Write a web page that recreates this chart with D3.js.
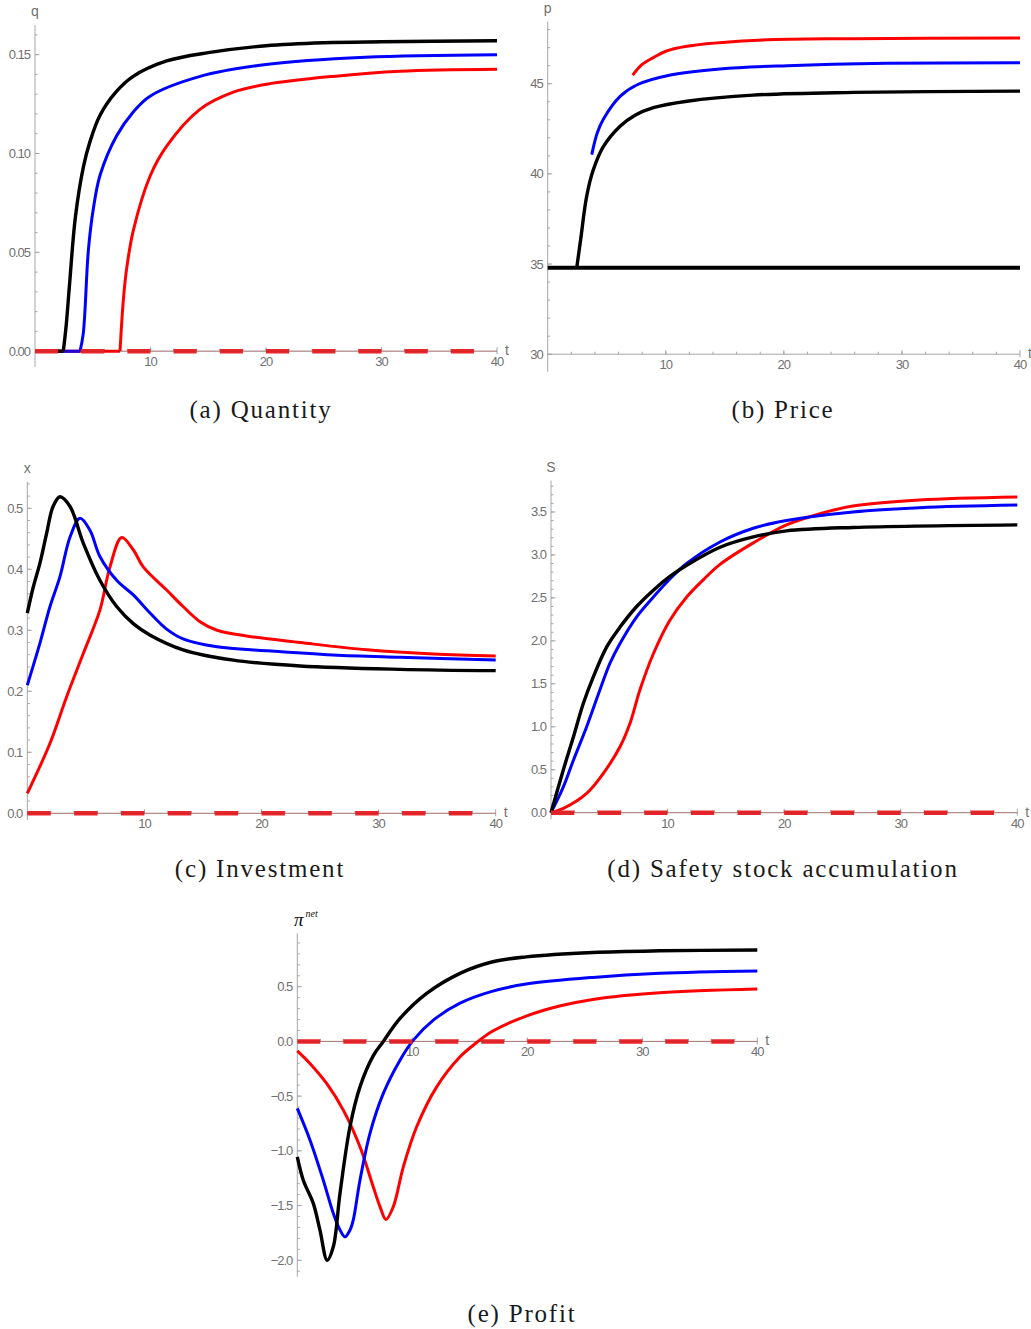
<!DOCTYPE html>
<meta charset="utf-8">
<style>
body { margin: 0; background: #fff; }
svg { display: block; }
.tick-label { font-family: "Liberation Sans", Arial, sans-serif; font-size: 13px; fill: #707070; letter-spacing: -1px; }
.axis-name { font-family: "Liberation Sans", Arial, sans-serif; font-size: 14px; fill: #707070; }
.caption { font-family: "Liberation Serif", serif; font-size: 25px; fill: #1a1a1a; letter-spacing: 1.8px; }
.pi { font-family: "Liberation Serif", serif; font-style: italic; fill: #111; }
</style>
<body>
<svg width="1031" height="1329"></svg>
<script src="https://cdn.jsdelivr.net/npm/d3@7"></script>
<script>

// shared time axis
var tMajor = [10, 20, 30, 40];
var tLabels = ["10", "20", "30", "40"];

// (a) quantity q(t)
var qBlackT = [0, 2.45, 2.7, 3.0, 3.5, 4.2, 4.76, 5.6, 7.0, 8.5, 11.4, 15, 20, 25, 30, 40];
var qBlack  = [0, 0, 0.013, 0.0345, 0.068, 0.0935, 0.106, 0.119, 0.131, 0.139, 0.1468, 0.151, 0.1545, 0.156, 0.1565, 0.157];
var qBlueT  = [0, 3.9, 4.18, 4.62, 5.05, 5.63, 7.07, 8.51, 9.96, 14.3, 20, 28.6, 40];
var qBlue   = [0, 0, 0.009, 0.051, 0.072, 0.089, 0.109, 0.121, 0.129, 0.139, 0.145, 0.1487, 0.150];
var qRedT   = [0, 7.36, 7.65, 7.94, 8.51, 9.96, 11.4, 14.28, 17.17, 20.05, 25.8, 31.6, 40];
var qRed    = [0, 0, 0.026, 0.042, 0.061, 0.0885, 0.1037, 0.1223, 0.131, 0.135, 0.139, 0.1416, 0.1426];
var qTicks  = [0, 0.05, 0.10, 0.15];
var qLabels = ["0.00", "0.05", "0.10", "0.15"];

// (b) price p(t)
var pFloorT = [0, 40];
var pFloor  = [34.8, 34.8];
var pBlackT = [2.46, 2.8, 3.3, 3.87, 4.7, 6.13, 7.4, 8.95, 11.8, 17.4, 25.9, 40];
var pBlack  = [34.8, 36.4, 38.76, 40.24, 41.5, 42.64, 43.25, 43.67, 44.03, 44.37, 44.52, 44.59];
var pBlueT  = [3.73, 4.2, 4.7, 6.13, 7.54, 10.4, 14.6, 20.3, 28.7, 40];
var pBlue   = [41.07, 42.28, 43.02, 44.3, 44.93, 45.48, 45.82, 46.0, 46.13, 46.17];
var pRedT   = [7.2, 8.0, 8.95, 10.0, 11.8, 17.4, 25.9, 40];
var pRed    = [45.48, 46.07, 46.45, 46.8, 47.08, 47.4, 47.5, 47.53];
var pTicks  = [30, 35, 40, 45];
var pLabels = ["30", "35", "40", "45"];

// (c) investment x(t)
var xBlackT = [0, 0.51, 1.08, 1.65, 2.2, 2.79, 3.65, 4.78, 6.2, 7.63, 9.05, 10.5, 13.3, 17.6, 23.3, 31.8, 40];
var xBlack  = [0.328, 0.371, 0.41, 0.459, 0.503, 0.519, 0.503, 0.443, 0.382, 0.339, 0.311, 0.292, 0.268, 0.251, 0.2415, 0.236, 0.2338];
var xBlueT  = [0, 1.08, 1.94, 2.79, 3.65, 4.5, 5.35, 6.2, 7.63, 9.05, 10.5, 11.9, 13.3, 16.2, 20.4, 26.1, 31.8, 40];
var xBlue   = [0.210, 0.279, 0.339, 0.388, 0.453, 0.4836, 0.464, 0.421, 0.382, 0.358, 0.328, 0.302, 0.286, 0.273, 0.2666, 0.2595, 0.2557, 0.2513];
var xRedT   = [0, 1.94, 3.36, 4.78, 6.2, 7.06, 8.06, 9.05, 9.9, 11.9, 13.3, 14.75, 16.2, 19.0, 23.3, 29, 34.7, 40];
var xRed    = [0.0328, 0.1148, 0.191, 0.262, 0.333, 0.404, 0.452, 0.432, 0.404, 0.366, 0.339, 0.314, 0.300, 0.290, 0.280, 0.268, 0.261, 0.258];
var xTicks  = [0, 0.1, 0.2, 0.3, 0.4, 0.5];
var xLabels = ["0.0", "0.1", "0.2", "0.3", "0.4", "0.5"];

// (d) safety stock S(t)
var sBlackT = [0, 1.06, 1.92, 2.77, 3.63, 4.78, 5.92, 7.35, 8.78, 10.2, 11.64, 14.5, 17.35, 20.2, 25.9, 40];
var sBlack  = [0, 0.5, 0.88, 1.27, 1.58, 1.93, 2.16, 2.40, 2.59, 2.75, 2.88, 3.09, 3.21, 3.28, 3.32, 3.35];
var sBlueT  = [0, 1.06, 1.92, 3.06, 4.2, 5.06, 5.92, 7.35, 8.78, 10.2, 11.64, 14.5, 17.35, 20.2, 25.9, 31.6, 40];
var sBlue   = [0, 0.30, 0.61, 1.0, 1.43, 1.74, 1.97, 2.28, 2.51, 2.72, 2.90, 3.15, 3.31, 3.40, 3.50, 3.55, 3.58];
var sRedT   = [0, 1.06, 3.06, 4.49, 5.92, 6.78, 7.63, 8.78, 10.2, 11.64, 13.06, 14.5, 17.35, 20.2, 23.07, 25.9, 31.6, 40];
var sRed    = [0, 0.05, 0.225, 0.458, 0.767, 1.04, 1.43, 1.85, 2.24, 2.51, 2.71, 2.89, 3.14, 3.35, 3.48, 3.57, 3.64, 3.675];
var sTicks  = [0, 0.5, 1.0, 1.5, 2.0, 2.5, 3.0, 3.5];
var sLabels = ["0.0", "0.5", "1.0", "1.5", "2.0", "2.5", "3.0", "3.5"];

// (e) net profit
var eBlackT = [0, 0.52, 1.39, 1.97, 2.6, 3.13, 3.71, 4.58, 5.45, 6.61, 7.48, 8.93, 11.25, 14.15, 17.0, 19.9, 25.7, 31.5, 40];
var eBlack  = [-1.055, -1.268, -1.48, -1.725, -2.0, -1.877, -1.39, -0.78, -0.415, -0.13, 0.0, 0.21, 0.439, 0.622, 0.728, 0.773, 0.813, 0.828, 0.835];
var eBlueT  = [0, 1.1, 2.26, 3.13, 3.7, 4.15, 4.6, 4.87, 5.45, 6.32, 7.48, 8.93, 10.09, 11.83, 14.15, 17.0, 19.9, 25.7, 31.5, 40];
var eBlue   = [-0.612, -0.90, -1.268, -1.57, -1.72, -1.786, -1.72, -1.63, -1.268, -0.84, -0.475, -0.171, 0.012, 0.195, 0.35, 0.46, 0.524, 0.585, 0.622, 0.643];
var eRedT   = [0, 1.1, 2.55, 4.0, 5.45, 6.61, 7.19, 7.71, 8.35, 9.22, 10.38, 12.12, 14.15, 15.6, 17.0, 19.9, 22.8, 25.7, 31.5, 40];
var eRed    = [-0.086, -0.201, -0.384, -0.628, -0.963, -1.33, -1.51, -1.627, -1.51, -1.146, -0.78, -0.415, -0.14, -0.01, 0.095, 0.231, 0.323, 0.384, 0.444, 0.478];
var eTicks  = [-2.0, -1.5, -1.0, -0.5, 0, 0.5];
var eLabels = ["\u22122.0", "\u22121.5", "\u22121.0", "\u22120.5", "0.0", "0.5"];

var svg = d3.select("svg");

function panel(o) {
  var g = svg.append("g");
  var x = d3.scaleLinear().domain([0, 40]).range([o.left, o.right]);
  var y = d3.scaleLinear().domain(o.yDomain).range([o.bottom, o.top]);
  var ax = x(0), ay = y(o.xAxisAt);

  // axes
  g.append("line").attr("x1", ax).attr("x2", ax).attr("y1", o.top).attr("y2", o.bottom)
    .attr("stroke", "#a6a6a6").attr("stroke-width", 1);
  g.append("line").attr("x1", ax).attr("x2", x(40)).attr("y1", ay).attr("y2", ay)
    .attr("stroke", "#a6a6a6").attr("stroke-width", 1);

  // y ticks
  var nMinor = Math.round((o.minorMax - o.minorMin) / o.minorStep);
  d3.range(0, nMinor + 1).forEach(function(i) {
    var v = o.minorMin + i * o.minorStep;
    g.append("line").attr("x1", ax).attr("x2", ax + 2.5).attr("y1", y(v)).attr("y2", y(v))
      .attr("stroke", "#a6a6a6");
  });
  o.yTicks.forEach(function(v, i) {
    g.append("line").attr("x1", ax).attr("x2", ax + 4.5).attr("y1", y(v)).attr("y2", y(v))
      .attr("stroke", "#a6a6a6");
    g.append("text").attr("class", "tick-label").attr("x", ax - 5).attr("y", y(v) + 4.5)
      .attr("text-anchor", "end").text(o.yLabels[i]);
  });

  // t ticks
  d3.range(1, 20).forEach(function(i) {
    g.append("line").attr("x1", x(i * 2)).attr("x2", x(i * 2)).attr("y1", ay).attr("y2", ay - 2.5)
      .attr("stroke", "#a6a6a6");
  });
  tMajor.forEach(function(v, i) {
    g.append("line").attr("x1", x(v)).attr("x2", x(v)).attr("y1", ay - 4).attr("y2", v === 40 ? ay + 3 : ay)
      .attr("stroke", "#a6a6a6");
    g.append("text").attr("class", "tick-label").attr("x", x(v)).attr("y", ay + 15)
      .attr("text-anchor", "middle").text(tLabels[i]);
  });

  g.append("text").attr("class", "axis-name").attr("x", x(40) + 8).attr("y", ay + 4).text("t");
  if (o.yName) {
    g.append("text").attr("class", "axis-name").attr("x", ax).attr("y", o.top - 9)
      .attr("text-anchor", "middle").text(o.yName);
  }

  var smooth = d3.line().curve(d3.curveCatmullRom.alpha(0.5)).x(function(d) { return x(d[0]); }).y(function(d) { return y(d[1]); });
  var straight = d3.line().x(function(d) { return x(d[0]); }).y(function(d) { return y(d[1]); });

  o.series.forEach(function(s) {
    var pts = d3.zip(s.t, s.v);
    if (s.flatStart) {
      g.append("path").attr("d", straight(pts.slice(0, 2))).attr("fill", "none")
        .attr("stroke", s.color).attr("stroke-width", s.w);
      pts = pts.slice(1);
    }
    g.append("path").attr("d", smooth(pts)).attr("fill", "none")
      .attr("stroke", s.color).attr("stroke-width", s.w).attr("stroke-linecap", "butt");
  });

  if (o.dashed) {
    var dash = x(2) - x(0);
    g.append("path").attr("d", straight([[0, 0], [40, 0]])).attr("fill", "none")
      .attr("stroke", "#e8262b").attr("stroke-width", 4.5)
      .attr("stroke-dasharray", dash + " " + dash);
    g.append("line").attr("x1", ax).attr("x2", x(40)).attr("y1", ay).attr("y2", ay)
      .attr("stroke", "#b02020").attr("stroke-opacity", 0.35).attr("stroke-width", 1);
  }

  g.append("text").attr("class", "caption").attr("x", o.capX).attr("y", o.capY)
    .attr("text-anchor", "middle").text(o.caption);
  return g;
}

panel({
  left: 35, right: 497, top: 25, bottom: 367, yDomain: [-0.008, 0.165], xAxisAt: 0,
  yTicks: qTicks, yLabels: qLabels, minorMin: 0, minorMax: 0.16, minorStep: 0.01, yName: "q",
  series: [
    { t: qRedT, v: qRed, color: "#ff0000", w: 3, flatStart: true },
    { t: qBlueT, v: qBlue, color: "#0000ff", w: 3, flatStart: true },
    { t: qBlackT, v: qBlack, color: "#000", w: 3.4, flatStart: true }
  ],
  dashed: true, caption: "(a) Quantity", capX: 261, capY: 418
});

panel({
  left: 547.7, right: 1020, top: 21.7, bottom: 371.7, yDomain: [29.03, 48.44], xAxisAt: 30,
  yTicks: pTicks, yLabels: pLabels, minorMin: 30, minorMax: 48, minorStep: 1, yName: "p",
  series: [
    { t: pRedT, v: pRed, color: "#ff0000", w: 3 },
    { t: pBlueT, v: pBlue, color: "#0000ff", w: 3 },
    { t: pFloorT, v: pFloor, color: "#000", w: 4 },
    { t: pBlackT, v: pBlack, color: "#000", w: 3.4 }
  ],
  dashed: false, caption: "(b) Price", capX: 783, capY: 418
});

panel({
  left: 27.3, right: 495.7, top: 481.7, bottom: 820, yDomain: [-0.011, 0.5436], xAxisAt: 0,
  yTicks: xTicks, yLabels: xLabels, minorMin: 0, minorMax: 0.54, minorStep: 0.02, yName: "x",
  series: [
    { t: xRedT, v: xRed, color: "#ff0000", w: 3 },
    { t: xBlueT, v: xBlue, color: "#0000ff", w: 3 },
    { t: xBlackT, v: xBlack, color: "#000", w: 3.4 }
  ],
  dashed: true, caption: "(c) Investment", capX: 260, capY: 877
});

panel({
  left: 551, right: 1017.3, top: 480.7, bottom: 819.3, yDomain: [-0.077, 3.864], xAxisAt: 0,
  yTicks: sTicks, yLabels: sLabels, minorMin: 0, minorMax: 3.8, minorStep: 0.1, yName: "S",
  series: [
    { t: sRedT, v: sRed, color: "#ff0000", w: 3 },
    { t: sBlueT, v: sBlue, color: "#0000ff", w: 3 },
    { t: sBlackT, v: sBlack, color: "#000", w: 3.4 }
  ],
  dashed: true, caption: "(d) Safety stock accumulation", capX: 783, capY: 877
});

var ge = panel({
  left: 297.3, right: 757.3, top: 933.3, bottom: 1276.7, yDomain: [-2.15, 0.988], xAxisAt: 0,
  yTicks: eTicks, yLabels: eLabels, minorMin: -2.1, minorMax: 0.9, minorStep: 0.1, yName: null,
  series: [
    { t: eRedT, v: eRed, color: "#ff0000", w: 3 },
    { t: eBlueT, v: eBlue, color: "#0000ff", w: 3 },
    { t: eBlackT, v: eBlack, color: "#000", w: 3.4 }
  ],
  dashed: true, caption: "(e) Profit", capX: 522, capY: 1322
});

var pi = ge.append("text").attr("class", "pi").attr("x", 294).attr("y", 926);
pi.append("tspan").attr("font-size", "19px").text("\u03c0");
pi.append("tspan").attr("font-size", "10px").attr("dx", 2).attr("dy", -9).text("net");

</script>
</body>
